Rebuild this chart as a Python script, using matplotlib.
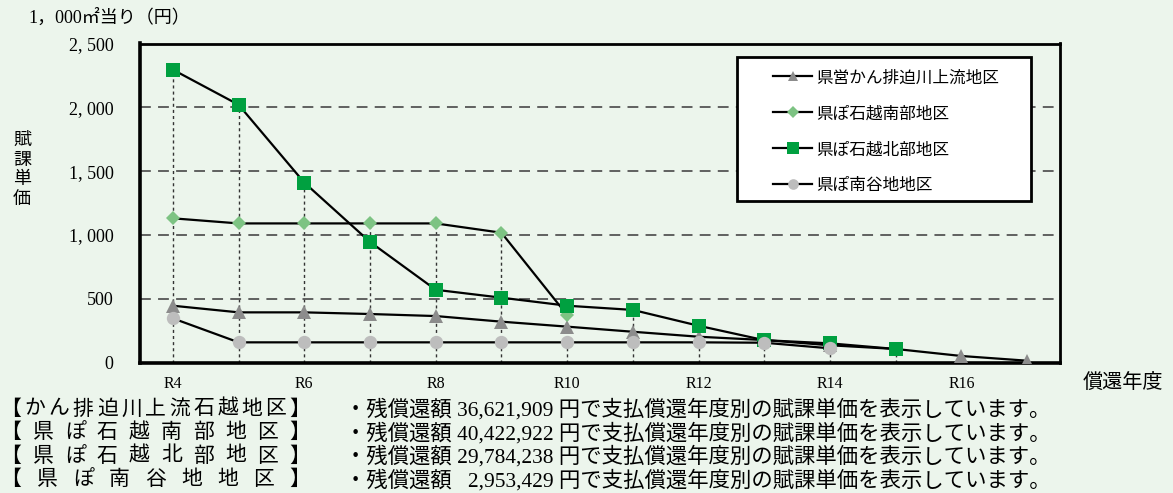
import matplotlib
matplotlib.use("Agg")
import matplotlib.pyplot as plt
from matplotlib.lines import Line2D
from matplotlib.patches import Rectangle

plt.rcParams['font.family'] = ['Liberation Serif', 'Noto Sans CJK JP']

# data (賦課単価, 円 / 1,000㎡)
years = ["R4", "R5", "R6", "R7", "R8", "R9", "R10", "R11", "R12", "R13", "R14", "R15", "R16", "R17"]
kanhai = [445, 393, 393, 380, 364, 320, 281, 241, 202, 176, 135, 106, 51, 14]
ishikoshi_minami = [1130, 1090, 1090, 1090, 1090, 1017, 372]
ishikoshi_kita = [2295, 2020, 1410, 945, 570, 508, 445, 412, 288, 175, 150, 106]
minamiya = [346, 158, 158, 158, 158, 158, 158, 158, 158, 155, 111]

series_names = ["県営かん排迫川上流地区", "県ぽ石越南部地区", "県ぽ石越北部地区", "県ぽ南谷地地区"]
yticks = [0, 500, 1000, 1500, 2000, 2500]
ytick_labels = ["0", "500", "1, 000", "1, 500", "2, 000", "2, 500"]
xtick_labels = ["R4", "R6", "R8", "R10", "R12", "R14", "R16"]

note_labels = ["【かん排迫川上流石越地区】", "【県ぽ石越南部地区】", "【県ぽ石越北部地区】", "【県ぽ南谷地地区】"]
note_amounts = ["36,621,909", "40,422,922", "29,784,238", "2,953,429"]

W, H = 1173, 493
bg = "#ecf5ec"
fig = plt.figure(figsize=(W / 100, H / 100), dpi=100, facecolor=bg)
ax = fig.add_axes([140 / W, 1 - 362.5 / H, (1060 - 140) / W, (362.5 - 43.5) / H])
ax.set_facecolor(bg)

all_series = [kanhai, ishikoshi_minami, ishikoshi_kita, minamiya]
styles = [
    dict(marker="^", ms=9.5, color="#8c8c8c"),
    dict(marker="D", ms=7.5, color="#7dc383"),
    dict(marker="s", ms=10, color="#00a040"),
    dict(marker="o", ms=9.6, color="#bdbdbd"),
]

# vertical drop lines from the highest point of each year
for i in range(len(years)):
    top = max(s[i] for s in all_series if i < len(s))
    ax.vlines(i, 0, top, colors="#333333", lw=1, linestyles=(0, (2.2, 2.2)), zorder=1)

for y in yticks[1:-1]:
    ax.axhline(y, color="#555555", lw=1.3, linestyle=(0, (6, 4)), zorder=1)

handles = []
for vals, st in zip(all_series, styles):
    ax.plot(range(len(vals)), vals, color="black", lw=1.6, marker=st["marker"],
            ms=st["ms"], mfc=st["color"], mec=st["color"], mew=0, zorder=3)
    handles.append(Line2D([], [], color="black", lw=1.6, marker=st["marker"],
                          ms=st["ms"] * 0.8, mfc=st["color"], mec=st["color"], mew=0))

ax.set_xlim(-0.5, 13.5)
ax.set_ylim(0, 2500)
ax.set_yticks(yticks)
ax.set_yticklabels(ytick_labels, fontsize=13)
ax.set_xticks([years.index(t) for t in xtick_labels])
ax.set_xticklabels(xtick_labels, fontsize=11.5)
ax.tick_params(axis="y", length=0, pad=19)
ax.tick_params(axis="x", length=0, pad=10)
for side in ["left", "bottom"]:
    ax.spines[side].set_linewidth(2.6)
for side in ["top", "right"]:
    ax.spines[side].set_linewidth(2)

# legend box
ax.add_patch(Rectangle((737 / W, 1 - 201 / H), (1031 - 737) / W, (201 - 57) / H,
                       transform=fig.transFigure, facecolor="white", edgecolor="black",
                       lw=2, zorder=4, clip_on=False))
leg = ax.legend(handles, series_names, loc="upper left", bbox_to_anchor=(765 / W, 1 - 62 / H),
                bbox_transform=fig.transFigure, frameon=False, borderpad=0, fontsize=12,
                handlelength=2.3, handletextpad=0.3, labelspacing=1.2)
leg.set_zorder(5)

fig.text(28 / W, 1 - 18 / H, "1，000㎡当り（円）", fontsize=13, ha="left", va="center")
fig.text(22 / W, 1 - 170 / H, "賦\n課\n単\n価", fontsize=13, ha="center", va="center", linespacing=1.2)
fig.text(1123 / W, 1 - 383 / H, "償還年度", fontsize=14.5, ha="center", va="center")

# notes below the chart
for k, (label, amount) in enumerate(zip(note_labels, note_amounts)):
    yc = 1 - (410 + 23.5 * k) / H
    chars = list(label)
    x0, x1 = 11, 300
    step = (x1 - x0) / (len(chars) - 1)
    for j, ch in enumerate(chars):
        fig.text((x0 + step * j) / W, yc, ch, fontsize=15, ha="center", va="center")
    pad = " " * (1 + 2 * (10 - len(amount)))
    fig.text(345 / W, yc, "・残償還額" + pad + amount + " 円で支払償還年度別の賦課単価を表示しています。",
             fontsize=15.4, ha="left", va="center")

fig.savefig("out.png", dpi=100, facecolor=bg)
